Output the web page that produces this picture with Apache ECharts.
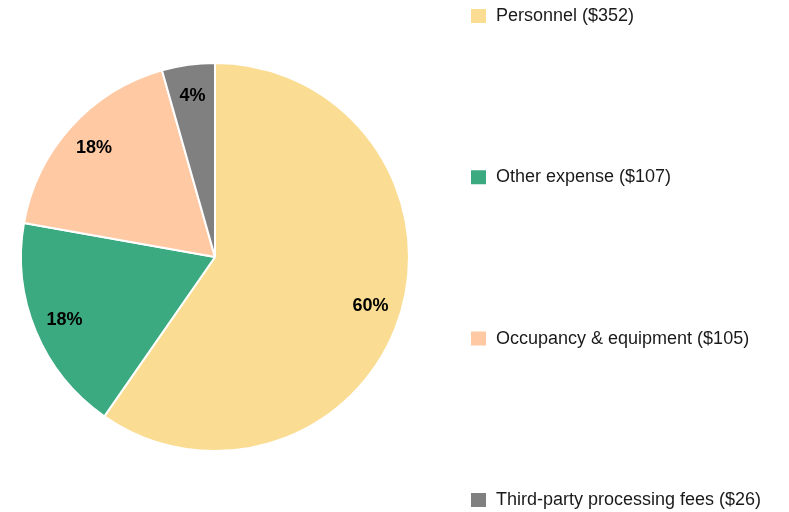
<!DOCTYPE html>
<html>
<head>
<meta charset="utf-8">
<script src="https://cdn.jsdelivr.net/npm/echarts@6/dist/echarts.min.js"></script>
<style>
  html, body { margin: 0; padding: 0; background: #fff; }
  #chart { width: 789px; height: 512px; }
</style>
</head>
<body>
<div id="chart"></div>
<script>
  // expense breakdown
  let categories = ['Personnel', 'Other expense', 'Occupancy & equipment', 'Third-party processing fees']
  let amounts = [352, 107, 105, 26]
  let colors = ['#FADD92', '#3BAA80', '#FFC9A3', '#808080']

  let total = amounts.reduce((a, b) => a + b, 0)
  let pieData = categories.map((name, i) => ({
    name: name,
    value: amounts[i],
    itemStyle: { color: colors[i] }
  }))

  let chart = echarts.init(document.getElementById('chart'))
  chart.setOption({
    animation: false,
    textStyle: { fontFamily: 'Liberation Sans, Arial, sans-serif' },
    legend: {
      orient: 'vertical',
      left: 469,
      top: 7,
      padding: 0,
      itemWidth: 17,
      itemHeight: 16,
      itemGap: 143.3,
      icon: 'rect',
      selectedMode: false,
      data: categories,
      formatter: name => name + ' ($' + amounts[categories.indexOf(name)] + ')',
      textStyle: { fontSize: 18, lineHeight: 18, color: '#1a1a1a', padding: [0, 0, 0, 4] }
    },
    series: [{
      type: 'pie',
      center: [215, 257],
      radius: [0, 194],
      startAngle: 90,
      clockwise: true,
      data: pieData,
      itemStyle: { borderColor: '#fff', borderWidth: 2 },
      label: { show: false },
      labelLine: { show: false },
      emphasis: { disabled: true }
    }, {
      // transparent ring used only to place the percent labels
      type: 'pie',
      center: [215, 257],
      radius: [126, 194],
      startAngle: 90,
      clockwise: true,
      silent: true,
      data: pieData.map(d => ({ name: d.name, value: d.value, itemStyle: { color: 'rgba(0,0,0,0)' } })),
      label: {
        show: true,
        position: 'inside',
        fontSize: 18,
        fontWeight: 'bold',
        color: '#000',
        formatter: p => Math.round(p.value / total * 100) + '%'
      },
      labelLine: { show: false },
      emphasis: { disabled: true }
    }]
  })
</script>
</body>
</html>
